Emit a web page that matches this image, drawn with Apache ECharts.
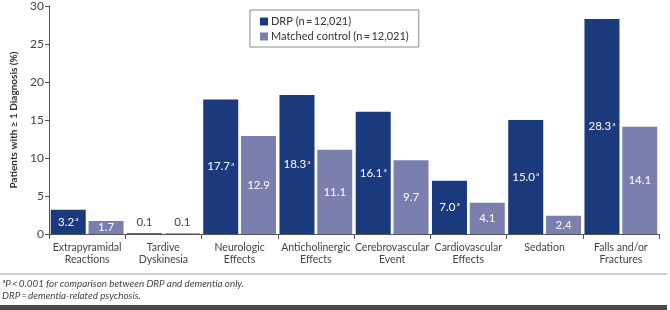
<!DOCTYPE html>
<html>
<head>
<meta charset="utf-8" />
<style>
  html, body { margin: 0; padding: 0; background: #fff; }
  #chart { width: 670px; height: 310px; }
</style>
<script src="https://cdn.jsdelivr.net/npm/echarts@6/dist/echarts.min.js"></script>
</head>
<body>
<div id="chart"></div>
<script type="text/javascript">
  // data
  var categories = ['Extrapyramidal\nReactions', 'Tardive\nDyskinesia', 'Neurologic\nEffects',
    'Anticholinergic\nEffects', 'Cerebrovascular\nEvent', 'Cardiovascular\nEffects', 'Sedation',
    'Falls and/or\nFractures'];
  var drpValues = [3.2, 0.1, 17.7, 18.3, 16.1, 7.0, 15.0, 28.3];
  var controlValues = [1.7, 0.1, 12.9, 11.1, 9.7, 4.1, 2.4, 14.1];
  var drpSignificant = [true, false, true, true, true, true, true, true];
  var yTicks = { min: 0, max: 30, interval: 5 };

  var seriesNames = ['DRP (n\u2009=\u200912,021)', 'Matched control (n\u2009=\u200912,021)'];
  var font = 'Lato, "Open Sans", sans-serif';

  function labelFor(value, sig) {
    var txt = value.toFixed(1);
    if (value < 1) return '{g|' + txt + '}';
    return sig ? '{v|' + txt + '}{s|a}' : '{v|' + txt + '}';
  }

  function buildData(values, sigs) {
    return values.map(function (v, i) {
      var small = v < 1;
      return {
        value: v,
        label: {
          position: small ? 'top' : 'inside',
          formatter: labelFor(v, sigs ? sigs[i] : false)
        }
      };
    });
  }

  var richText = {
    v: { color: '#fff', fontSize: 11.5, fontFamily: font },
    s: { color: '#fff', fontSize: 6.5, fontFamily: font, padding: [0, 0, 6, 1] },
    g: { color: '#444', fontSize: 11.5, fontFamily: font }
  };

  var chart = echarts.init(document.getElementById('chart'));
  chart.setOption({
    animation: false,
    textStyle: { fontFamily: font },
    grid: { left: 49, right: 11, top: 6, bottom: 76 },
    legend: {
      orient: 'vertical',
      left: 250,
      top: 10,
      padding: [6, 10, 5, 10],
      itemGap: 4,
      itemWidth: 8,
      itemHeight: 8,
      borderColor: '#8a8a8a',
      borderWidth: 1,
      icon: 'rect',
      textStyle: { fontSize: 11, color: '#333', padding: [0, 0, 0, -2] },
      data: seriesNames
    },
    xAxis: {
      type: 'category',
      data: categories,
      axisLine: { lineStyle: { color: '#555', width: 1 } },
      axisTick: { show: true, length: 5, interval: 0, alignWithLabel: false, lineStyle: { color: '#555' } },
      axisLabel: { interval: 0, color: '#444', fontSize: 10.5, lineHeight: 12, margin: 8 }
    },
    yAxis: {
      type: 'value',
      min: yTicks.min,
      max: yTicks.max,
      interval: yTicks.interval,
      name: 'Patients with \u2265 1 Diagnosis (%)',
      nameLocation: 'middle',
      nameGap: 28,
      nameTextStyle: { fontSize: 10, fontWeight: 'bold', color: '#333' },
      axisLine: { show: true, lineStyle: { color: '#555', width: 1 } },
      axisTick: { show: true, length: 4, lineStyle: { color: '#555' } },
      axisLabel: { color: '#444', fontSize: 12, margin: 5 },
      splitLine: { show: false }
    },
    series: [
      {
        name: seriesNames[0],
        type: 'bar',
        barWidth: 35,
        barGap: '8%',
        itemStyle: { color: '#1b3a7e' },
        label: { show: true, rich: richText },
        data: buildData(drpValues, drpSignificant)
      },
      {
        name: seriesNames[1],
        type: 'bar',
        barWidth: 35,
        itemStyle: { color: '#7a7fae' },
        label: { show: true, rich: richText },
        data: buildData(controlValues, null)
      }
    ],
    graphic: [
      { type: 'line', shape: { x1: 0, y1: 274, x2: 667, y2: 274 }, style: { stroke: '#9a9a9a', lineWidth: 1 } },
      { type: 'text', left: 2, top: 279, style: { text: '\u00aaP\u2009<\u20090.001 for comparison between DRP and dementia only.', fontSize: 9.8, fontStyle: 'italic', fill: '#444', fontFamily: font } },
      { type: 'text', left: 2, top: 291, style: { text: 'DRP\u2009=\u2009dementia-related psychosis.', fontSize: 9.8, fontStyle: 'italic', fill: '#444', fontFamily: font } },
      { type: 'rect', shape: { x: 0, y: 305, width: 667, height: 5 }, style: { fill: '#4a4a4a' } }
    ]
  });
</script>
</body>
</html>
